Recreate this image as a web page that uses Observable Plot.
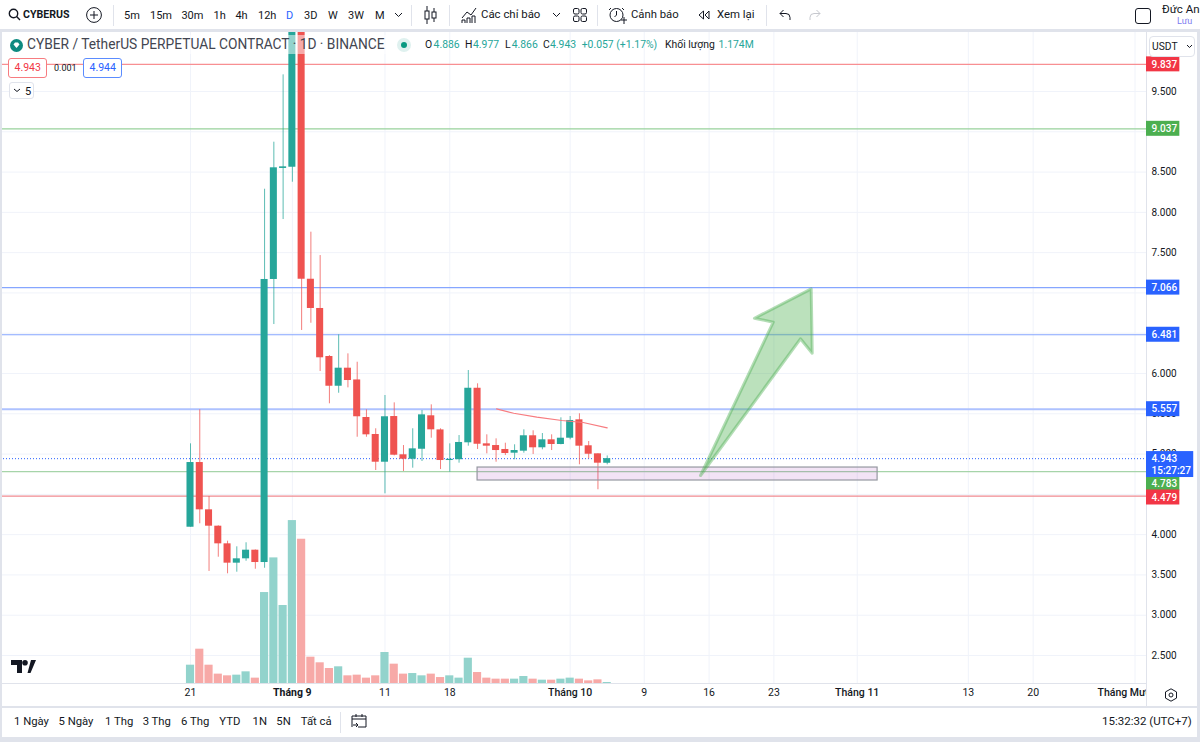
<!DOCTYPE html>
<html lang="vi">
<head>
<meta charset="utf-8">
<script src="https://cdn.jsdelivr.net/npm/d3@7"></script>
<script src="https://cdn.jsdelivr.net/npm/@observablehq/plot@0.6"></script>
<style>
html,body{margin:0;padding:0;width:1200px;height:742px;overflow:hidden;background:#e0e3eb;font-family:Roboto,"Liberation Sans",sans-serif;color:#131722}
#stage{position:relative;width:1200px;height:742px;overflow:hidden}
#top{position:absolute;left:0;top:0;width:1200px;height:29px;background:#fff}
#chart{position:absolute;left:0;top:32px;width:1200px;height:674px}
#chart svg{display:block;overflow:hidden}
#foot{position:absolute;left:0;top:708px;width:1197px;height:29px;background:#fff}
.edge{position:absolute;background:#e0e3eb}
.t{position:absolute;white-space:nowrap;transform:translateY(-50%);line-height:1}
.ic{position:absolute;overflow:visible;fill:none;stroke:#131722;stroke-width:1}
</style>
</head>
<body>
<div id="stage">
  <div id="top"></div>
  <div id="chart"></div>
  <div id="foot"></div>
  <div class="edge" style="left:0;top:29px;width:2px;height:713px"></div>
  <div class="edge" style="left:1197px;top:29px;width:3px;height:713px"></div>
  <div id="over"></div>
</div>
<script>
// Candles, in bar order from 21 Aug
const open = [4.092,4.895,4.308,4.105,3.886,3.646,3.70,3.807,3.654,7.167,8.545,8.56,11.2,7.17,6.807,6.211,5.842,6.066,5.92,5.454,5.243,4.899,5.466,4.991,4.936,5.06,5.475,5.30,4.92,4.93,5.14,5.817,5.127,5.106,5.057,5.011,5.036,5.227,5.078,5.177,5.119,5.197,5.425,5.103,5.003,4.886];
const high = [5.127,5.549,4.473,4.11,3.919,3.849,3.899,3.81,8.287,8.871,9.707,11.5,11.4,7.754,7.464,6.223,6.48,6.244,6.14,5.549,5.314,5.727,5.636,5.106,5.314,5.541,5.611,5.314,5.127,5.23,6.037,5.872,5.239,5.189,5.135,5.115,5.301,5.289,5.255,5.239,5.45,5.466,5.50,5.156,5.003,4.977];
const low = [4.092,4.135,3.543,3.72,3.514,3.534,3.67,3.571,3.583,6.608,7.911,8.374,6.534,6.624,6.025,5.624,5.755,5.822,5.209,5.209,4.796,4.507,4.978,4.784,4.825,4.908,5.197,4.808,4.775,4.887,5.098,5.057,5.003,4.899,4.982,4.929,5.011,4.995,5.053,5.044,5.115,5.177,4.867,4.941,4.557,4.866];
const close = [4.895,4.308,4.105,3.886,3.646,3.70,3.807,3.654,7.167,8.553,8.565,11.2,7.17,6.807,6.195,5.842,6.066,5.913,5.463,5.239,4.899,5.463,4.986,4.936,5.065,5.487,5.301,4.92,4.935,5.144,5.817,5.122,5.098,5.044,5.007,5.044,5.227,5.078,5.177,5.119,5.197,5.417,5.098,4.998,4.887,4.943];
// Volume, in millions
const volume = [21.5,40.3,21.5,11.0,9.0,9.8,13.7,6.3,106.8,147.5,91.6,191.3,169.4,30.9,24.3,17.6,19.6,9.0,9.8,6.3,9.0,36.4,22.7,11.0,11.7,9.0,11.0,7.0,9.0,6.3,29.7,12.9,6.3,5.1,5.1,5.1,8.2,5.1,3.9,3.9,5.1,6.3,5.1,3.1,4.3,1.174];

// Moving average segment
const maBar = [33.05,34.9,37.4,40.1,42.4,45];
const maPrice = [5.562,5.507,5.458,5.417,5.392,5.326];

// Drawn arrow
const arrowBar = [55.08,62.93,60.9,67.03,67.14,65.87,55.08];
const arrowPrice = [4.734,6.637,6.686,7.051,6.252,6.431,4.734];

// Drawn zone
const zoneBars = [31.0,74.2];
const zonePrices = [4.672,4.833];

// Horizontal levels
const levelPrice = [9.837,9.037,7.066,6.481,5.557,4.783,4.479];
const levelColor = ["#f88f92","#98d29b","#86a6ff","#86a6ff","#aec2ff","#a6d4a9","#f08a90"];
const levelWidth = [1.2,1.2,1.2,1.2,2,1.2,1.2];

// Price column tags
const tagText = ["9.837","9.037","7.066","6.481","5.557","4.783","4.479"];
const tagPrice = [9.837,9.037,7.066,6.481,5.557,4.635,4.461];
const tagColor = ["#f23645","#4caf50","#2962ff","#2962ff","#2962ff","#4caf50","#f23645"];

// Axes
const gridPrices = [2.5,3,3.5,4,4.5,5,5.5,6,6.5,7,7.5,8,8.5,9,9.5];
const labelPrices = [2.5,3,3.5,4,5,5.5,6,7.5,8,8.5,9.5];
const dayTicks = [0,21,28,49,56,63,84,91];
const dayLabels = ["21","11","18","9","16","23","13","20"];
const boldMonthTicks = [11];
const boldMonthLabels = ["Tháng 9"];
const monthTicks = [41,72,102];
const monthLabels = ["Tháng 10","Tháng 11","Tháng Mười Hai"];

const UP = "#26a69a", DOWN = "#ef5350", UPV = "#92d3cc", DOWNV = "#f7a9a7";
const baseline = 2.1525, bottomPrice = 1.867, topPrice = 10.2324;
const paneEnd = 103.24, fullEnd = 109.07;
const perMillion = 0.01057; // price units per million on the overlaid volume pane

const bars = open.map((o, i) => ({i, o, h: high[i], l: low[i], c: close[i], v: volume[i], up: close[i] >= o}));
const levels = levelPrice.map((p, k) => ({p, color: levelColor[k], w: levelWidth[k]}));
const tags = tagText.map((text, k) => ({text, p: tagPrice[k], color: tagColor[k]}));
const ma = maBar.map((b, k) => ({b, p: maPrice[k]}));
const arrow = arrowBar.map((b, k) => ({b, p: arrowPrice[k]}));
const zone = [{x1: zoneBars[0], x2: zoneBars[1], y1: zonePrices[0], y2: zonePrices[1]}];
const tagHalf = 0.093;

const plot = Plot.plot({
  width: 1200, height: 674,
  marginTop: 0, marginBottom: 23, marginLeft: 0, marginRight: 54,
  style: {background: "#fff", fontFamily: "Roboto, 'Liberation Sans', sans-serif", overflow: "hidden"},
  x: {domain: [-20.52, paneEnd], range: [0, 1146], axis: null},
  y: {domain: [baseline, topPrice], range: [651, 0], axis: null},
  marks: [
    Plot.gridY(gridPrices, {stroke: "#f0f3fa", strokeOpacity: 1}),
    Plot.gridX(dayTicks.concat(monthTicks, boldMonthTicks), {stroke: "#f0f3fa", strokeOpacity: 1}),
    Plot.ruleY(levels, {y: "p", stroke: "color", strokeWidth: "w"}),
    Plot.ruleY([4.943], {stroke: "#2962ff", strokeWidth: 1, strokeDasharray: "1 2"}),
    Plot.rect(bars, {x1: d => d.i - 0.44, x2: d => d.i + 0.44, y1: () => baseline, y2: d => baseline + d.v * perMillion, fill: d => d.up ? UPV : DOWNV}),
    Plot.ruleX(bars, {x: "i", y1: "l", y2: "h", stroke: d => d.up ? UP : DOWN, strokeOpacity: 0.75}),
    Plot.rect(bars, {x1: d => d.i - 0.38, x2: d => d.i + 0.38, y1: "o", y2: "c", fill: d => d.up ? UP : DOWN}),
    Plot.line(ma, {x: "b", y: "p", stroke: "#f77c80", strokeWidth: 1.2, curve: "linear"}),
    Plot.rect(zone, {x1: "x1", x2: "x2", y1: "y1", y2: "y2", fill: "#9c27b0", fillOpacity: 0.13, stroke: "#9598a1", strokeWidth: 1.2}),
    Plot.line(arrow, {x: "b", y: "p", fill: "#4caf50", fillOpacity: 0.38, stroke: "#4caf50", strokeOpacity: 0.42, strokeWidth: 3, strokeLinejoin: "round"}),
    Plot.ruleY([baseline], {stroke: "#e0e3eb"}),
    Plot.axisX({anchor: "bottom", ticks: dayTicks, tickSize: 0, tickPadding: 5, tickFormat: d => dayLabels[dayTicks.indexOf(d)], fontSize: 10.5, fill: "#131722", textAnchor: "middle"}),
    Plot.axisX({anchor: "bottom", ticks: monthTicks, tickSize: 0, tickPadding: 5, tickFormat: d => monthLabels[monthTicks.indexOf(d)], fontSize: 10.5, fill: "#131722", fontWeight: 500, textAnchor: "middle"}),
    Plot.axisX({anchor: "bottom", ticks: boldMonthTicks, tickSize: 0, tickPadding: 5, tickFormat: d => boldMonthLabels[boldMonthTicks.indexOf(d)], fontSize: 10.5, fill: "#131722", fontWeight: 700, textAnchor: "middle"}),
    Plot.rect([0], {x1: () => paneEnd, x2: () => fullEnd, y1: () => bottomPrice, y2: () => topPrice, fill: "#fff"}),
    Plot.ruleX([paneEnd], {y1: bottomPrice, y2: topPrice, stroke: "#e0e3eb"}),
    Plot.axisY({anchor: "right", ticks: labelPrices, tickSize: 0, tickPadding: 5, tickFormat: d3.format(".3f"), fontSize: 10, fill: "#131722"}),
    Plot.rect(tags, {x1: () => paneEnd, x2: () => paneEnd + 3.6, y1: d => d.p - tagHalf, y2: d => d.p + tagHalf, fill: "color"}),
    Plot.text(tags, {x: () => paneEnd + 0.55, y: "p", text: "text", fill: "#fff", textAnchor: "start", fontSize: 10, fontWeight: 500}),
    Plot.rect([{p: 4.87}], {x1: () => paneEnd, x2: () => paneEnd + 5.1, y1: d => d.p - 0.161, y2: d => d.p + 0.161, fill: "#2962ff"}),
    Plot.text([{p: 4.87, text: "4.943\n15:27:27"}], {x: () => paneEnd + 0.55, y: "p", text: "text", fill: "#fff", textAnchor: "start", fontSize: 10, fontWeight: 500, lineHeight: 1.2})
  ]
});
document.getElementById("chart").appendChild(plot);

// Chrome around the chart
const over = document.getElementById("over");
function t(x, y, text, css) {
  const s = document.createElement("span");
  s.className = "t";
  s.textContent = text;
  s.style.cssText = `left:${x}px;top:${y}px;font-size:11px;${css || ""}`;
  over.appendChild(s);
  return s;
}
function box(x, y, w, h, css) {
  const d = document.createElement("div");
  d.style.cssText = `position:absolute;left:${x}px;top:${y}px;width:${w}px;height:${h}px;box-sizing:border-box;${css}`;
  over.appendChild(d);
}
function icon(x, y, w, h, body, css) {
  const NS = "http://www.w3.org/2000/svg";
  const s = document.createElementNS(NS, "svg");
  s.setAttribute("class", "ic");
  s.setAttribute("width", w); s.setAttribute("height", h);
  s.setAttribute("viewBox", `0 0 ${w} ${h}`);
  s.style.cssText = `left:${x}px;top:${y}px;${css || ""}`;
  s.innerHTML = body;
  over.appendChild(s);
}
// legend backing makes the tall candles pale behind the title row
box(3, 35, 392, 19, "background:rgba(255,255,255,.5)");

// toolbar
icon(8, 8, 13, 13, '<circle cx="5.5" cy="5.5" r="4.2" stroke-width="1.4"/><path d="M8.6 8.6L12 12" stroke-width="1.4"/>');
t(23, 15, "CYBERUS", "font-weight:700;font-size:10.6px;");
icon(86, 7, 16, 16, '<circle cx="8" cy="8" r="7.4"/><path d="M8 4v8M4 8h8"/>');
box(113, 5, 1, 21, "background:#e0e3eb");
[["5m",124],["15m",150],["30m",181.4],["1h",213.5],["4h",235.4],["12h",258],["D",286,"color:#2962ff;"],["3D",304],["W",328],["3W",348],["M",375]].forEach(([s,x,c]) => t(x, 15, s, "font-size:11px;" + (c || "")));
icon(394, 12, 9, 6, '<path d="M1 1l3.500 3.500L8 1"/>');
box(411, 5, 1, 21, "background:#e0e3eb");
icon(424, 6, 13, 18, '<path d="M3 0v18M10 2v14"/><rect x="1" y="5" width="4" height="8" fill="#fff"/><rect x="8" y="6" width="4" height="6" fill="#fff"/>');
box(449, 5, 1, 21, "background:#e0e3eb");
icon(461, 6, 16, 18, '<path d="M1 12l5-6 4 3 5-7M1 17V14h3v3M6 17v-5h3v5M11 17v-7h3v7"/>');
t(481, 15, "Các chỉ báo", "font-size:11.4px;");
icon(552, 12, 9, 6, '<path d="M1 1l3.500 3.500L8 1"/>');
icon(573, 8, 14, 14, '<rect x=".5" y=".5" width="5.500" height="5.500" rx="1.500"/><rect x="8" y=".5" width="5.500" height="5.500" rx="1.500"/><rect x=".5" y="8" width="5.500" height="5.500" rx="1.500"/><rect x="8" y="8" width="5.500" height="5.500" rx="1.500"/>');
box(597, 5, 1, 21, "background:#e0e3eb");
icon(609, 6, 18, 19, '<circle cx="7.500" cy="9" r="6.500"/><path d="M7.500 5v4l-2 2M2 2L0 4M13 2l2 2M12 14h6M15 11v7"/>');
t(631, 15, "Cảnh báo", "font-size:11.3px;");
icon(698, 10, 12, 10, '<path d="M5.500 1L1 5l4.500 4zM11 1L7 5l4 4z"/>');
t(717, 15, "Xem lại", "font-size:11.4px;");
box(766, 5, 1, 21, "background:#e0e3eb");
icon(779, 9, 12, 11, '<path d="M4.500 1L1 4.500 4.500 8M1 4.500h6a4 4 0 0 1 4 4V11"/>');
icon(809, 9, 12, 11, '<path d="M7.500 1L11 4.500 7.500 8M11 4.500H5a4 4 0 0 0-4 4V11"/>', "stroke:#c6c8ce;");
box(1135, 8, 16, 16, "border:1.4px solid #131722;border-radius:3px");
t(1162, 10, "Đức An", "font-size:11.5px;");
t(1177, 20.5, "Lưu", "font-size:9px;color:#7b7bf0;");

// legend row
icon(10, 39, 13, 13, '<circle cx="6.500" cy="6.500" r="6.500" fill="#0d8a80" stroke="none"/><path d="M3.500 5.500l1.500-2h3l1.500 2-3 3.500z" fill="#fff" stroke="none"/>');
t(27, 45, "CYBER / TetherUS PERPETUAL CONTRACT · 1D · BINANCE", "font-size:13.75px;color:#434651;");
icon(397, 38, 14, 14, '<circle cx="7" cy="7" r="7" fill="#dff1ef" stroke="none"/><circle cx="7" cy="7" r="3" fill="#089981" stroke="none"/>');
const g = "color:#26a69a;";
[["O",425,""],["4.886",433.6,g],["H",465,""],["4.977",473,g],["L",505,""],["4.866",511.7,g],["C",543,""],["4.943",550,g],["+0.057 (+1.17%)",581.7,g],["Khối lượng",665,""],["1.174M",718.6,g]].forEach(([s,x,c]) => t(x, 45, s, "font-size:10.4px;" + c));

// price tags at the top-left
box(8, 57.5, 39, 20, "border:1px solid #f77c80;border-radius:3px;background:#fff");
t(14.5, 67.5, "4.943", "font-size:10.5px;color:#f23645;");
t(54, 67.5, "0.001", "font-size:9px;color:#131722;");
box(83, 57.5, 39, 20, "border:1px solid #5b8cff;border-radius:3px;background:#fff");
t(89.5, 67.5, "4.944", "font-size:10.5px;color:#2962ff;");
box(9, 82, 25, 17, "border:1px solid #e0e3eb;border-radius:3px;background:#fff");
icon(13, 88, 8, 5, '<path d="M1 1l3 2.500L7 1"/>');
t(25, 90.5, "5", "font-size:11px;");

// currency selector
box(1149, 36, 46, 21, "border:1px solid #e0e3eb;border-radius:4px;background:#fff");
t(1152, 46.5, "USDT", "font-size:10.3px;");
icon(1186, 44, 7, 5, '<path d="M1 1l2.500 2.500L6 1"/>');

// wordmark and axis corner
icon(11, 660, 25, 13, '<path d="M0 0h11v13H6V5H0zM16.500 13L20 0h5l-5.500 13z" fill="#131722" stroke="none"/><circle cx="14" cy="2.800" r="2.800" fill="#131722" stroke="none"/>');
icon(1164, 688, 14, 14, '<path d="M7 .8l5.500 3.100v6.200L7 13.200 1.500 10.100V3.900z"/><circle cx="7" cy="7" r="2"/>');

// footer
box(2, 706, 1195, 2, "background:#e0e3eb");
[["1 Ngày",14],["5 Ngày",58.5],["1 Thg",105],["3 Thg",142.7],["6 Thg",181],["YTD",219.3],["1N",252.6],["5N",276.3],["Tất cả",300.8]].forEach(([s,x]) => t(x, 722, s, "font-size:11.3px;"));
box(340, 712, 1, 21, "background:#e0e3eb");
icon(351, 713, 16, 16, '<path d="M1 14V3h14v11H7M1 6h14M5 1v3M11 1v3M2 12h5l-2-2M7 12l-2 2"/>');
t(1102, 721.5, "15:32:32 (UTC+7)", "font-size:11.5px;");
</script>
</body>
</html>
